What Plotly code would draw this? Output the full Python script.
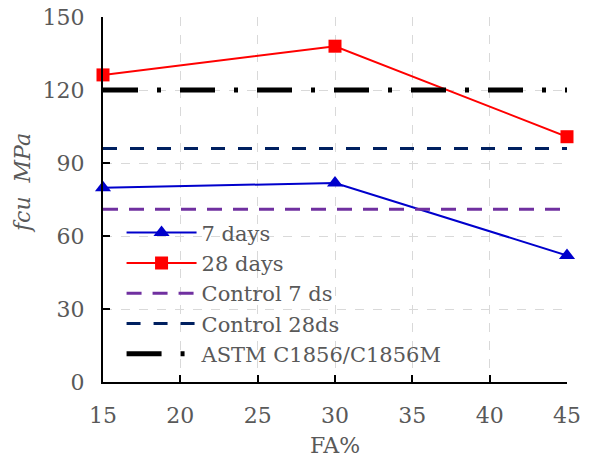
import plotly.graph_objects as go

fa = [15, 30, 45]
days7 = [79.8, 81.8, 52.0]
days28 = [126.2, 138.0, 100.8]
control7 = [71, 71, 71]
control28 = [96, 96, 96]
astm = [120, 120, 120]

x_ticks = [15, 20, 25, 30, 35, 40, 45]
y_ticks = [0, 30, 60, 90, 120, 150]

serif = "DejaVu Serif"
gray = "#595959"
fs = 22

fig = go.Figure()
fig.add_trace(go.Scatter(x=fa, y=days7, name="7 days", mode="lines+markers",
                         line=dict(color="#0000CC", width=2),
                         marker=dict(symbol="triangle-up", size=14, color="#0000CC"),
                         cliponaxis=False, legendgroup="a"))
fig.add_trace(go.Scatter(x=fa, y=days28, name="28 days", mode="lines+markers",
                         line=dict(color="#FF0000", width=2),
                         marker=dict(symbol="square", size=13, color="#FF0000"),
                         cliponaxis=False, legendgroup="b"))
fig.add_trace(go.Scatter(x=fa, y=control7, name="Control 7 ds", mode="lines",
                         line=dict(color="#7030A0", width=3, dash="15px,11px"),
                         legendgroup="c"))
fig.add_trace(go.Scatter(x=fa, y=control28, name="Control 28ds", mode="lines",
                         line=dict(color="#002060", width=3, dash="14px,13px"),
                         legendgroup="d"))
fig.add_trace(go.Scatter(x=fa, y=astm, name="ASTM C1856/C1856M", mode="lines",
                         line=dict(color="#000000", width=5, dash="35px,19px,4px,19px"),
                         legendgroup="e"))

axis_common = dict(
    showline=True, linecolor="black", linewidth=2,
    ticks="inside", ticklen=7, tickcolor="black", tickwidth=1.5,
    showgrid=True, gridcolor="#D9D9D9", griddash="dash", gridwidth=1,
    zeroline=False, mirror=False, automargin=False,
    tickfont=dict(family=serif, size=fs, color=gray),
)

fig.update_xaxes(range=[15, 45], tickvals=x_ticks, ticklabelstandoff=13,
                 title=dict(text="FA%", font=dict(family=serif, size=fs, color=gray), standoff=10),
                 **axis_common)
fig.update_yaxes(range=[0, 150], tickvals=y_ticks, ticklabelstandoff=12,
                 **axis_common)

fig.add_annotation(text="<i>fcu  MPa</i>", xref="paper", yref="paper",
                   x=-0.1746, y=0.545, textangle=-90, showarrow=False,
                   xanchor="center", yanchor="middle",
                   font=dict(family=serif, size=fs, color=gray))

fig.update_layout(
    width=590, height=466,
    margin=dict(l=103, r=23, t=17, b=84),
    plot_bgcolor="white", paper_bgcolor="white",
    font=dict(family=serif, size=fs, color=gray),
    legend=dict(x=0.04, y=0.4645, xanchor="left", yanchor="top",
                bgcolor="rgba(0,0,0,0)", tracegroupgap=0, itemwidth=70,
                font=dict(family=serif, size=21, color=gray)),
)

fig.write_html("out.html")
